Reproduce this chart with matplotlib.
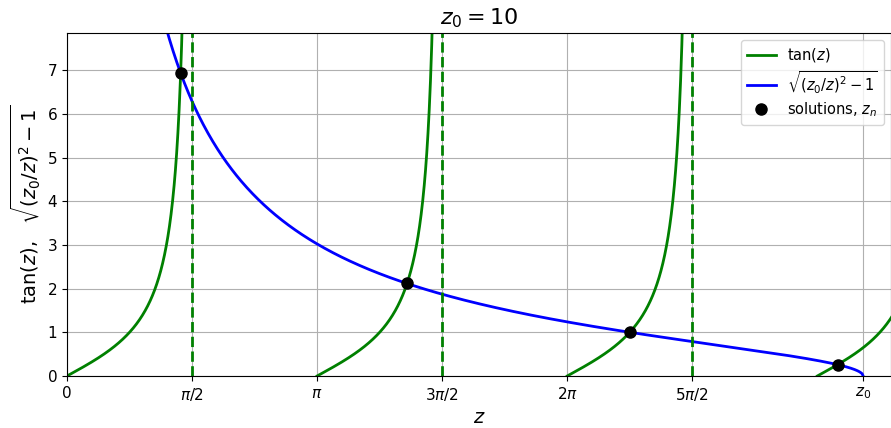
import numpy as np
import matplotlib
matplotlib.use("Agg")
import matplotlib.pyplot as plt

# well strength and the even-state solutions z_n of tan(z) = sqrt((z0/z)^2 - 1)
z0 = 10
z_solutions = [1.4276, 4.2711, 7.0689, 9.6830]

tick_values = [0, np.pi / 2, np.pi, 3 * np.pi / 2, 2 * np.pi, 5 * np.pi / 2, z0]
tick_labels = ['0', r'$\pi/2$', r'$\pi$', r'$3\pi/2$', r'$2\pi$', r'$5\pi/2$', r'$z_0$']
asymptotes = [np.pi / 2, 3 * np.pi / 2, 5 * np.pi / 2]

fig = plt.figure(figsize=(8.91, 4.28), dpi=100)
ax = fig.add_axes([0.0752, 0.1215, 0.9248, 0.8014])

# positive branches of tan(z)
for n in range(4):
    z = np.linspace(n * np.pi, n * np.pi + np.pi / 2 - 0.01, 400)
    ax.plot(z, np.tan(z), color='green', lw=2,
            label=r'$\tan(z)$' if n == 0 else None)

zz = np.linspace(0.5, z0, 800)
ax.plot(zz, np.sqrt((z0 / zz) ** 2 - 1), color='blue', lw=2,
        label=r'$\sqrt{(z_0/z)^2-1}$')

for a in asymptotes:
    ax.axvline(a, color='green', ls='--', lw=2)

zs = np.array(z_solutions)
ax.plot(zs, np.sqrt((z0 / zs) ** 2 - 1), 'o', color='black', ms=8,
        label=r'solutions, $z_n$', zorder=5)

ax.set_xlim(0, 10.35)
ax.set_ylim(0, 7.85)
ax.set_xticks(tick_values)
ax.set_xticklabels(tick_labels)
ax.tick_params(labelsize=11)
ax.grid(True)
ax.set_xlabel(r'$z$', fontsize=14)
ax.set_ylabel(r'$\tan(z),\ \ \sqrt{(z_0/z)^2-1}$', fontsize=14)
ax.set_title(r'$z_0 = 10$', fontsize=16)
ax.legend(loc='upper right', fontsize=10.5, labelspacing=0.35)

fig.savefig('out.png', dpi=100)
